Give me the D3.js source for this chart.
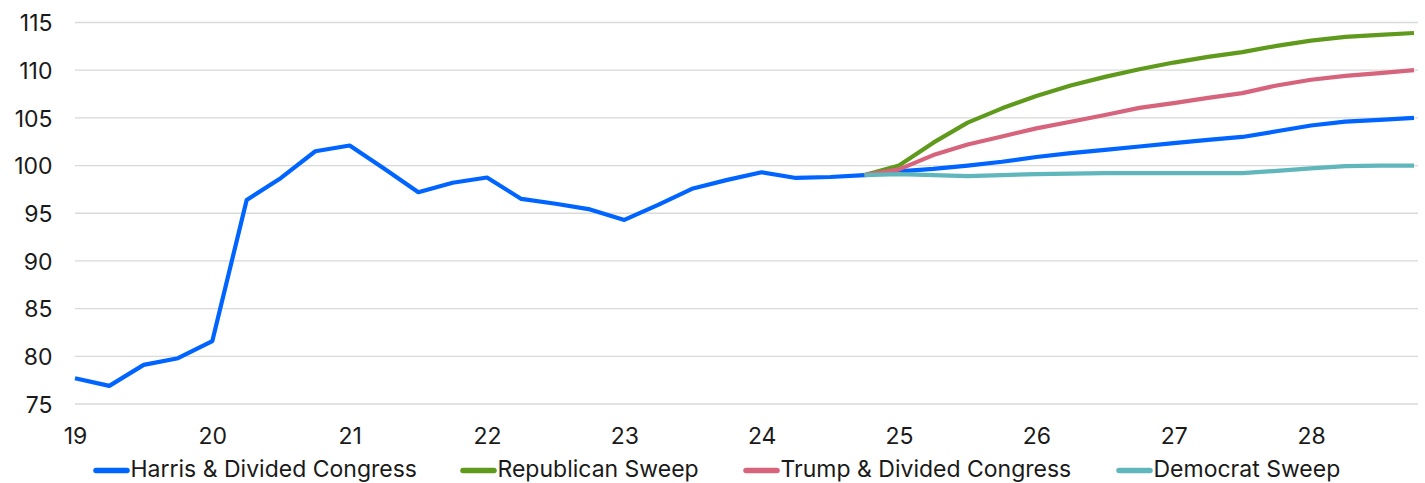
<!DOCTYPE html>
<html>
<head>
<meta charset="utf-8">
<script src="https://cdn.jsdelivr.net/npm/d3@7"></script>
<style>
  html, body { margin: 0; padding: 0; background: #fff; }
  svg text { font-family: Inter, "Noto Sans", sans-serif; fill: #1a1a1a; }
</style>
</head>
<body>
<svg id="chart" width="1425" height="483"></svg>
<script>
// Quarterly index, 2019Q1 to 2024Q4 (actuals)
const histQuarters = [19.0, 19.25, 19.5, 19.75, 20.0, 20.25, 20.5, 20.75, 21.0, 21.25, 21.5, 21.75,
                      22.0, 22.25, 22.5, 22.75, 23.0, 23.25, 23.5, 23.75, 24.0, 24.25, 24.5, 24.75];
const histValues = [77.7, 76.9, 79.1, 79.8, 81.6, 96.4, 98.7, 101.5, 102.1, 99.7, 97.2, 98.2,
                    98.75, 96.5, 96.0, 95.4, 94.3, 95.9, 97.6, 98.5, 99.3, 98.7, 98.8, 99.0];

// Scenario paths from 2024Q4 to 2028Q4
const fcQuarters = [24.75, 25.0, 25.25, 25.5, 25.75, 26.0, 26.25, 26.5, 26.75,
                    27.0, 27.25, 27.5, 27.75, 28.0, 28.25, 28.5, 28.75];
const harrisDivided = [99.0, 99.4, 99.65, 100.0, 100.4, 100.9, 101.3, 101.65, 102.0,
                       102.35, 102.7, 103.0, 103.6, 104.2, 104.6, 104.8, 105.0];
const republicanSweep = [99.0, 100.0, 102.4, 104.5, 106.0, 107.3, 108.4, 109.3, 110.1,
                         110.8, 111.4, 111.9, 112.55, 113.1, 113.5, 113.7, 113.9];
const trumpDivided = [99.0, 99.6, 101.1, 102.2, 103.05, 103.9, 104.6, 105.3, 106.05,
                      106.55, 107.1, 107.6, 108.4, 109.0, 109.4, 109.7, 110.0];
const democratSweep = [99.0, 99.1, 99.0, 98.9, 99.0, 99.1, 99.15, 99.2, 99.2,
                       99.2, 99.2, 99.2, 99.45, 99.7, 99.95, 100.0, 100.0];

const seriesNames = ["Harris & Divided Congress", "Republican Sweep", "Trump & Divided Congress", "Democrat Sweep"];
const seriesColors = ["#0064ff", "#5f9a1c", "#d6647c", "#5fb6bb"];

const xTicks = [19, 20, 21, 22, 23, 24, 25, 26, 27, 28];
const yTicks = [75, 80, 85, 90, 95, 100, 105, 110, 115];

const svg = d3.select("#chart");
const x = d3.scaleLinear().domain([19, 28.75]).range([75, 1414]);
const y = d3.scaleLinear().domain([75, 115]).range([404, 22.5]);
const gridRight = 1418;
const fontSize = 23;

// horizontal gridlines
svg.append("g")
  .selectAll("line").data(yTicks).join("line")
  .attr("x1", x(19)).attr("x2", gridRight)
  .attr("y1", d => y(d)).attr("y2", d => y(d))
  .attr("stroke", "#d9d9d9").attr("stroke-width", 1.3);

// y axis labels
const yAxis = d3.axisLeft(y).tickValues(yTicks).tickSize(0).tickPadding(0);
svg.append("g").attr("transform", "translate(52.5,0)").call(yAxis)
  .call(g => g.select(".domain").remove())
  .selectAll("text")
  .attr("font-size", fontSize).attr("font-family", "Inter, sans-serif")
  .attr("fill", "#1a1a1a").attr("dy", "0.36em");

// x axis labels
const xAxis = d3.axisBottom(x).tickValues(xTicks).tickFormat(d3.format("d")).tickSize(0).tickPadding(0);
svg.append("g").attr("transform", "translate(0,443.5)").call(xAxis)
  .call(g => g.select(".domain").remove())
  .selectAll("text")
  .attr("font-size", fontSize).attr("font-family", "Inter, sans-serif")
  .attr("fill", "#1a1a1a").attr("y", 0).attr("dy", 0);

const line = d3.line().x(d => x(d[0])).y(d => y(d[1]));
const lineStyle = (p, color) => p.attr("fill", "none").attr("stroke", color)
  .attr("stroke-width", 4.2).attr("stroke-linejoin", "round");

// actuals
svg.append("path").datum(d3.zip(histQuarters, histValues))
  .attr("d", line).call(lineStyle, seriesColors[0]);

// scenarios
[harrisDivided, republicanSweep, trumpDivided, democratSweep].forEach((vals, i) => {
  svg.append("path").datum(d3.zip(fcQuarters, vals))
    .attr("d", line).call(lineStyle, seriesColors[i]);
});

// legend
const legendX = [93, 460, 743, 1116];
const legend = svg.append("g");
seriesNames.forEach((name, i) => {
  const g = legend.append("g").attr("transform", `translate(${legendX[i]},470.5)`);
  g.append("line").attr("x1", 3).attr("x2", 34).attr("y1", 0).attr("y2", 0)
    .attr("stroke", seriesColors[i]).attr("stroke-width", 5.5).attr("stroke-linecap", "round");
  g.append("text").attr("x", 37.5).attr("y", 6.5).attr("font-size", fontSize).text(name);
});
</script>
</body>
</html>
